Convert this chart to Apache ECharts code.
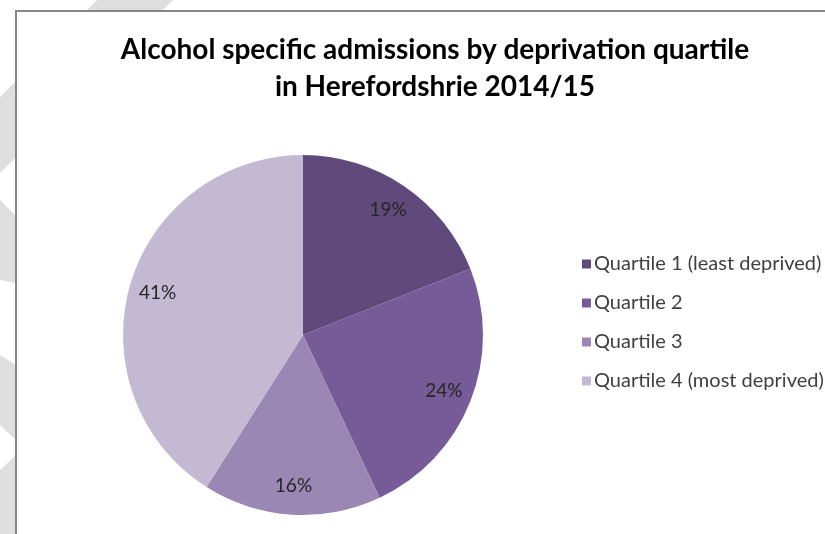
<!DOCTYPE html>
<html>
<head>
<meta charset="utf-8">
<script src="https://cdn.jsdelivr.net/npm/echarts@6/dist/echarts.min.js"></script>
<style>
html,body{margin:0;padding:0;background:#fff;}
#chart{width:825px;height:534px;}
</style>
</head>
<body>
<div id="chart"></div>
<script>
const categories = ['Quartile 1 (least deprived)', 'Quartile 2', 'Quartile 3', 'Quartile 4 (most deprived)'];
const shares = [19, 24, 16, 41];
const sliceColors = ['#604a7b', '#775b99', '#9b87b3', '#c3b9d2'];
const titleText = 'Alcohol specific admissions by deprivation quartile\nin Herefordshrie 2014/15';

const pieData = categories.map((name, i) => ({ name: name, value: shares[i], itemStyle: { color: sliceColors[i] } }));
const labelData = categories.map((name, i) => ({ name: name, value: shares[i] }));

const chart = echarts.init(document.getElementById('chart'), null, { renderer: 'canvas' });
const stripe = '#dedede';
chart.setOption({
  animation: false,
  backgroundColor: '#ffffff',
  graphic: [
    { type: 'polygon', z: 0, shape: { points: [[97, 0], [173, 0], [0, 173], [0, 97]] }, style: { fill: stripe } },
    { type: 'polygon', z: 0, shape: { points: [[0, 200], [16, 216], [16, 283], [0, 280]] }, style: { fill: stripe } },
    { type: 'polygon', z: 0, shape: { points: [[0, 355], [16, 365], [16, 440], [0, 425]] }, style: { fill: stripe } },
    { type: 'polygon', z: 0, shape: { points: [[0, 470], [16, 455], [16, 534], [0, 534]] }, style: { fill: stripe } },
    { type: 'rect', z: 1, shape: { x: 16, y: 11, width: 830, height: 560 }, style: { fill: '#ffffff', stroke: '#868686', lineWidth: 2 } }
  ],
  title: {
    text: titleText,
    left: 430,
    textAlign: 'center',
    top: 26,
    textStyle: {
      fontFamily: 'Lato',
      fontWeight: 'bold',
      fontSize: 28,
      lineHeight: 37,
      color: '#000000'
    }
  },
  legend: {
    orient: 'vertical',
    left: 577,
    top: 249,
    itemWidth: 9,
    itemHeight: 9,
    itemGap: 19,
    icon: 'rect',
    data: categories,
    textStyle: {
      fontFamily: 'Lato',
      fontSize: 20,
      lineHeight: 20,
      color: '#404040',
      padding: [0, 0, 0, -2]
    }
  },
  series: [
    {
      type: 'pie',
      center: [303, 335],
      radius: [0, 180],
      startAngle: 90,
      clockwise: true,
      silent: true,
      label: { show: false },
      labelLine: { show: false },
      itemStyle: { borderWidth: 0 },
      data: pieData
    },
    {
      type: 'pie',
      center: [303, 335],
      radius: [117, 180],
      startAngle: 90,
      clockwise: true,
      silent: true,
      legendHoverLink: false,
      itemStyle: { color: 'rgba(0,0,0,0)', borderWidth: 0 },
      label: {
        show: true,
        position: 'inside',
        formatter: '{c}%',
        fontFamily: 'Lato',
        fontSize: 19,
        color: '#262626'
      },
      labelLine: { show: false },
      data: labelData
    }
  ]
});
</script>
</body>
</html>
